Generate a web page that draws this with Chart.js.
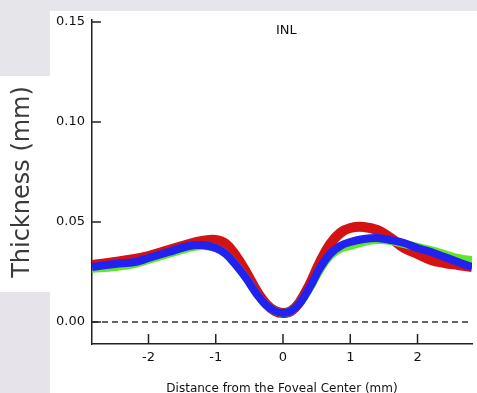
<!DOCTYPE html>
<html>
<head>
<meta charset="utf-8">
<script src="https://cdn.jsdelivr.net/npm/chart.js@4"></script>
<style>
  html, body { margin: 0; padding: 0; }
  body { width: 477px; height: 393px; position: relative; overflow: hidden; background: #e5e5ea; }
  #panel { position: absolute; left: 50px; top: 11px; right: 0; bottom: 0; background: #fff; }
  #strip { position: absolute; left: 0; top: 76px; width: 50px; height: 216px; background: #fff; }
  #lower { position: absolute; left: 0; top: 292px; width: 50px; bottom: 0; background: #e6e3ea; }
  #wrap { position: absolute; left: 0; top: 0; width: 477px; height: 393px; }
</style>
</head>
<body>
<div id="panel"></div>
<div id="strip"></div>
<div id="lower"></div>
<div id="wrap"><canvas id="thickChart" width="477" height="393"></canvas></div>
<script>
// distance from foveal center (mm)
const distance = [-2.84, -2.5, -2.2, -2.0, -1.7, -1.4, -1.2, -1.0, -0.85, -0.7, -0.55, -0.4, -0.25, -0.12, 0.0, 0.12, 0.25, 0.4, 0.55, 0.7, 0.85, 1.0, 1.2, 1.4, 1.6, 1.8, 2.0, 2.2, 2.4, 2.6, 2.81];
const redThick   = [0.0285, 0.030, 0.0315, 0.033, 0.036, 0.039, 0.0405, 0.041, 0.039, 0.033, 0.025, 0.016, 0.009, 0.0055, 0.0045, 0.0055, 0.010, 0.019, 0.030, 0.039, 0.0445, 0.047, 0.0475, 0.046, 0.042, 0.037, 0.034, 0.031, 0.0295, 0.0285, 0.0275];
const greenThick = [0.0265, 0.0275, 0.029, 0.031, 0.034, 0.037, 0.038, 0.037, 0.034, 0.0285, 0.022, 0.0145, 0.0085, 0.0055, 0.0045, 0.0055, 0.0095, 0.017, 0.026, 0.033, 0.0365, 0.038, 0.040, 0.041, 0.0405, 0.039, 0.0375, 0.036, 0.034, 0.032, 0.031];
const blueThick  = [0.0275, 0.029, 0.030, 0.032, 0.035, 0.038, 0.0385, 0.037, 0.034, 0.0285, 0.022, 0.0145, 0.0085, 0.0055, 0.0045, 0.0055, 0.0095, 0.0175, 0.027, 0.034, 0.038, 0.040, 0.0415, 0.042, 0.041, 0.0395, 0.037, 0.035, 0.0325, 0.030, 0.0275];
const xTicks = [-2, -1, 0, 1, 2];
const yTicks = [0.00, 0.05, 0.10, 0.15];

function points(vals) {
  return distance.map((d, i) => ({ x: d, y: vals[i] }));
}

const innerTicks = {
  id: "innerTicks",
  beforeDatasetsDraw(chart) {
    const c = chart.ctx;
    const xs = chart.scales.x, ys = chart.scales.y;
    const area = chart.chartArea;
    c.save();
    // dashed zero line
    c.strokeStyle = "#333";
    c.lineWidth = 1.5;
    c.setLineDash([6, 4]);
    c.beginPath();
    c.moveTo(area.left, ys.getPixelForValue(0));
    c.lineTo(area.right - 2, ys.getPixelForValue(0));
    c.stroke();
    c.setLineDash([]);
    c.strokeStyle = "#222";
    c.lineWidth = 1.5;
    yTicks.forEach(v => {
      const py = ys.getPixelForValue(v);
      c.beginPath(); c.moveTo(area.left, py); c.lineTo(area.left + 9, py); c.stroke();
    });
    xTicks.forEach(v => {
      const px = xs.getPixelForValue(v);
      c.beginPath(); c.moveTo(px, area.bottom); c.lineTo(px, area.bottom - 10); c.stroke();
    });
    // panel label
    c.fillStyle = "#111";
    c.font = "13px 'DejaVu Sans'";
    c.textAlign = "center";
    c.textBaseline = "middle";
    c.fillText("INL", xs.getPixelForValue(0.05), 31);
    c.restore();
  }
};

new Chart(document.getElementById("thickChart"), {
  type: "line",
  data: {
    datasets: [
      { data: points(blueThick), borderColor: "#2222f0", borderWidth: 8, pointRadius: 0, tension: 0.4, fill: false },
      { data: points(greenThick), borderColor: "#5ee826", borderWidth: 8, pointRadius: 0, tension: 0.4, fill: false },
      { data: points(redThick), borderColor: "#d41212", borderWidth: 10, pointRadius: 0, tension: 0.4, fill: false }
    ]
  },
  options: {
    responsive: false,
    animation: false,
    layout: { padding: { top: 20, right: 5, left: 0, bottom: 0 } },
    plugins: { legend: { display: false }, tooltip: { enabled: false } },
    scales: {
      x: {
        type: "linear",
        min: -2.84,
        max: 2.81,
        afterBuildTicks: s => { s.ticks = xTicks.map(v => ({ value: v })); },
        afterFit: s => { s.height = 49; },
        grid: { display: false, drawTicks: false },
        border: { display: true, color: "#222", width: 1.5 },
        ticks: { color: "#111", font: { family: "DejaVu Sans", size: 13 }, padding: 6 },
        title: { display: true, text: "Distance from the Foveal Center (mm)", color: "#111", font: { family: "DejaVu Sans", size: 12 }, padding: { top: 0, bottom: -3 } }
      },
      y: {
        type: "linear",
        min: -0.011,
        max: 0.151,
        afterBuildTicks: s => { s.ticks = yTicks.map(v => ({ value: v })); },
        afterFit: s => { s.width = 92; },
        grid: { display: false, drawTicks: false },
        border: { display: true, color: "#222", width: 1.5 },
        ticks: { color: "#111", font: { family: "DejaVu Sans", size: 13 }, padding: 7, callback: v => v.toFixed(2) },
        title: { display: true, text: "Thickness (mm)", color: "#3a3a3a", font: { family: "DejaVu Sans", size: 24 }, padding: { top: 8, bottom: 0 } }
      }
    }
  },
  plugins: [innerTicks]
});
</script>
</body>
</html>
